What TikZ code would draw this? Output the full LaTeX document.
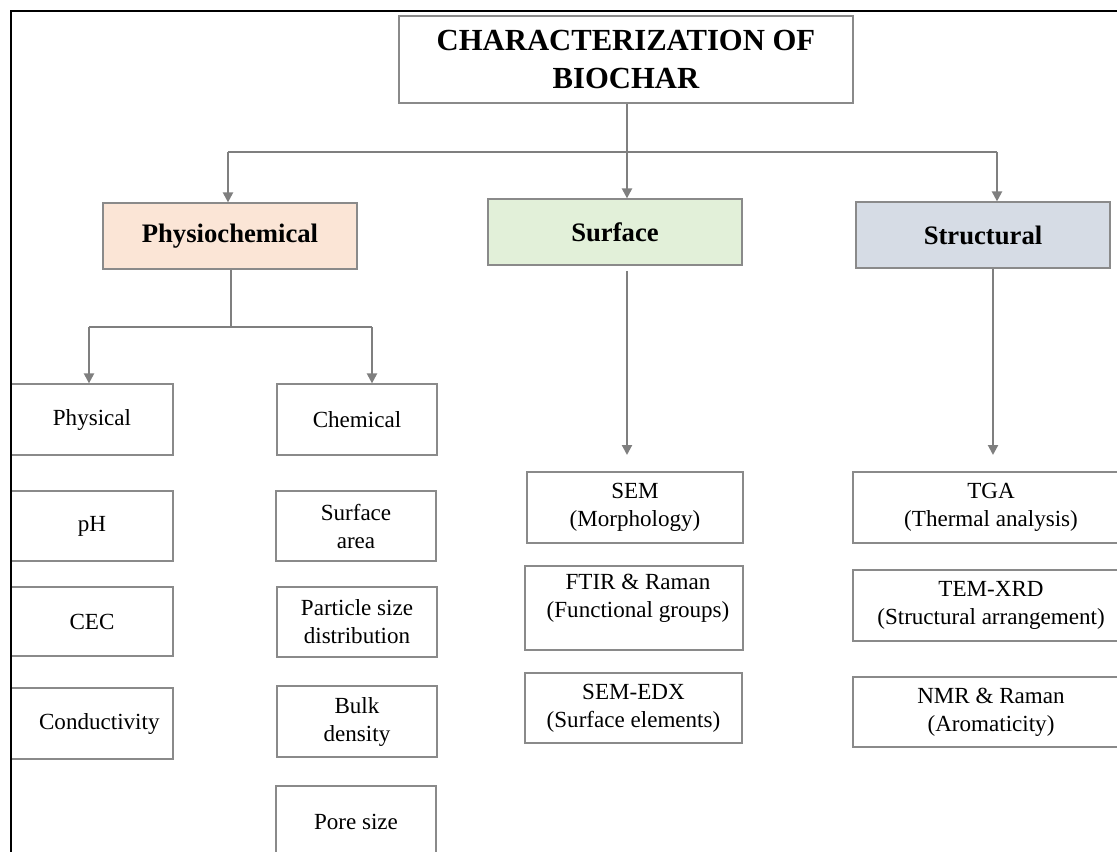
\documentclass[tikz,border=0pt]{standalone}
\usepackage{fontspec}
\setmainfont{Liberation Serif}
\usetikzlibrary{arrows.meta}
\definecolor{peach}{HTML}{FBE5D6}
\definecolor{mint}{HTML}{E2F0D9}
\definecolor{slate}{HTML}{D6DCE5}
\definecolor{edgegray}{HTML}{8A8A8A}
\definecolor{linegray}{HTML}{7F7F7F}
\newcommand{\fsreg}{\fontsize{17.3pt}{21pt}\selectfont}
\newcommand{\fshead}{\fontsize{20pt}{24pt}\selectfont\bfseries}
\newcommand{\fstitle}{\fontsize{23pt}{27.8pt}\selectfont\bfseries}
\tikzset{
  box/.style args={#1/#2}{draw=edgegray, line width=0.9pt, minimum width=#1*0.75pt,
    minimum height=#2*0.75pt, inner sep=0pt, align=center, font=\fsreg},
  headbox/.style={font=\fshead},
  conn/.style={draw=linegray, line width=1.6pt},
  arr/.style={conn, -{Triangle[length=7.5pt,width=7.5pt]}},
  txt/.style={inner sep=0pt, align=center, font=\fsreg}
}
\begin{document}
\begin{tikzpicture}[x=0.75pt,y=-0.75pt]
\useasboundingbox (0,0) rectangle (1117,852);
% title
\node[box=454/87, font=\fstitle] (title) at (626,59.5) {CHARACTERIZATION OF\\BIOCHAR};
% headers
\node[box=254/66, headbox, fill=peach] (phys) at (230,236) {Physiochemical};
\node[box=254/66, headbox, fill=mint] (surf) at (615,232) {Surface};
\node[box=254/66, headbox, fill=slate] (struc) at (983,235) {Structural};
% physiochemical column
\node[box=162/71] (physical) at (92,419.5) {Physical};
\node[box=162/70] (ph) at (92,526) {pH};
\node[box=162/69] (cec) at (92,621.5) {CEC};
\node[box=162/71] (cond) at (92,723.5) {\hspace*{11pt}Conductivity};
\node[box=160/71] (chem) at (357,419.5) {Chemical};
\node[box=160/70] (sarea) at (356,526) {Surface\\area};
\node[box=160/70] (psd) at (357,622) {Particle size\\distribution};
\node[box=160/71] (bulk) at (357,721.5) {Bulk\\density};
\node[box=160/71] (pore) at (356,821.5) {Pore size};
% surface column
\node[box=216/71] (sem) at (635,507.5) {SEM\\(Morphology)};
\node[box=218/84] (ftir) at (634,608) {};
\node[txt] (ftirt) at (638,598) {FTIR \& Raman\\(Functional groups)};
\node[box=217/70] (edx) at (633.5,708) {SEM-EDX\\(Surface elements)};
% structural column
\node[box=276/71] (tga) at (991,507.5) {TGA\\(Thermal analysis)};
\node[box=276/71] (tem) at (991,605.5) {TEM-XRD\\(Structural arrangement)};
\node[box=276/70] (nmr) at (991,712) {NMR \& Raman\\(Aromaticity)};
% connectors top level
\coordinate (j0) at (627,152);
\coordinate (jL) at (228,152);
\coordinate (jR) at (997,152);
\draw[conn] (title.south -| j0) -- (j0);
\draw[conn] (jL) -- (jR);
\draw[arr] (jL) -- (jL |- phys.north);
\draw[arr] (j0) -- (j0 |- surf.north);
\draw[arr] (jR) -- (jR |- struc.north);
% physiochemical split
\coordinate (p0) at (231,327);
\coordinate (pL) at (89,327);
\coordinate (pR) at (372,327);
\draw[conn] (phys.south -| p0) -- (p0);
\draw[conn] (pL) -- (pR);
\draw[arr] (pL) -- (pL |- physical.north);
\draw[arr] (pR) -- (pR |- chem.north);
% surface and structural arrows
\coordinate (sT) at (627,271);
\coordinate (sB) at (627,455);
\draw[arr] (sT) -- (sB);
\coordinate (tB) at (993,455);
\draw[arr] (struc.south -| tB) -- (tB);
% outer frame
\draw[black, line width=1.2pt] (11,852) -- (11,11) -- (1117,11);
\end{tikzpicture}
\end{document}
